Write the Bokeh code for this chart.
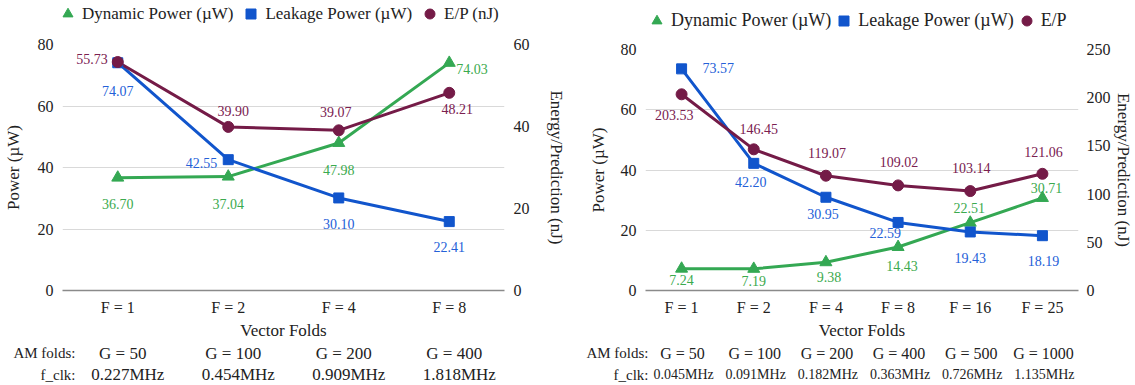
from bokeh.plotting import figure
from bokeh.models import (FactorRange, Range1d, LinearAxis, FixedTicker, Legend, LegendItem,
                          ColumnDataSource)
from bokeh.layouts import row, column
from bokeh.embed import file_html
from bokeh.resources import INLINE
from bokeh.core.properties import value

# ---------------- data ----------------
left_folds = ["F = 1", "F = 2", "F = 4", "F = 8"]
left_am = ["G = 50", "G = 100", "G = 200", "G = 400"]
left_fclk = ["0.227MHz", "0.454MHz", "0.909MHz", "1.818MHz"]
left_dynamic = [36.70, 37.04, 47.98, 74.03]
left_leakage = [74.07, 42.55, 30.10, 22.41]
left_ep = [55.73, 39.90, 39.07, 48.21]

right_folds = ["F = 1", "F = 2", "F = 4", "F = 8", "F = 16", "F = 25"]
right_am = ["G = 50", "G = 100", "G = 200", "G = 400", "G = 500", "G = 1000"]
right_fclk = ["0.045MHz", "0.091MHz", "0.182MHz", "0.363MHz", "0.726MHz", "1.135MHz"]
right_dynamic = [7.24, 7.19, 9.38, 14.43, 22.51, 30.71]
right_leakage = [73.57, 42.20, 30.95, 22.59, 19.43, 18.19]
right_ep = [203.53, 146.45, 119.07, 109.02, 103.14, 121.06]

row_heads = ["f_clk:", "AM folds:"]
power_ticks = [0, 20, 40, 60, 80]
left_ep_ticks = [0, 20, 40, 60]
right_ep_ticks = [0, 50, 100, 150, 200, 250]

# ---------------- style ----------------
FONT = "Liberation Serif"
GREEN = "#34A853"
BLUE = "#1155CC"
MAROON = "#741B47"
GREEN_T = "#3BAA4E"
BLUE_T = "#2460D8"
MAROON_T = "#7A2050"
TXT = "#222222"

# label placement (dx, dy in px; align)
left_lab = {
    "dyn": [(0, 26, "center"), (0, 27, "center"), (0, 27, "center"), (7, 6, "left")],
    "leak": [(0, 28, "center"), (-11, 3, "right"), (0, 26, "center"), (0, 25, "center")],
    "ep": [(-10, -3, "right"), (5, -16, "center"), (-3, -18, "center"), (8, 16, "center")],
}
right_lab = {
    "dyn": [(0, 11, "center"), (0, 12, "center"), (3, 15, "center"), (4, 19, "center"),
            (-1, -15, "center"), (4, -10, "center")],
    "leak": [(21, -1, "left"), (-3, 19, "center"), (-3, 17, "center"), (3, 11, "right"),
             (0, 26, "center"), (1, 25, "center")],
    "ep": [(12, 21, "right"), (5, -20, "center"), (1, -23, "center"), (1, -23, "center"),
           (1, -23, "center"), (1, -22, "center")],
}

LEG_H = 36
CHART_H = 306
TABLE_H = 385 - LEG_H - CHART_H
FRAME_BOTTOM = 291 - LEG_H   # frame bottom inside the chart figure


def add_labels(p, folds, vals, lab, color, range_name="default"):
    src = ColumnDataSource(dict(
        x=folds, y=vals, t=["%.2f" % v for v in vals],
        dx=[l[0] for l in lab], dy=[l[1] for l in lab], al=[l[2] for l in lab]))
    p.text(x="x", y="y", text="t", x_offset="dx", y_offset="dy", text_align="al",
           text_baseline="middle", text_font=value(FONT), text_font_size="14px",
           text_color=color, source=src, y_range_name=range_name)


def style_axis(ax, label_size="17px"):
    ax.axis_line_color = None
    ax.major_tick_line_color = None
    ax.minor_tick_line_color = None
    ax.major_tick_out = 0
    ax.major_tick_in = 0
    ax.minor_tick_out = 0
    ax.minor_tick_in = 0
    ax.major_label_text_font = FONT
    ax.major_label_text_font_size = "16px"
    ax.major_label_text_color = TXT
    ax.axis_label_text_font = FONT
    ax.axis_label_text_font_size = label_size
    ax.axis_label_text_font_style = "normal"
    ax.axis_label_text_color = TXT


def bare(f):
    f.outline_line_color = None
    f.background_fill_color = "white"
    f.border_fill_color = "white"
    if f.title is not None:
        f.title.visible = False


def make_chart(folds, am, fclk, dyn, leak, ep, ep_max, ep_ticks, ep_legend, lab,
               width, bl, br, bt, legend_loc, legend_font, rows_dx, rows_font, head_standoff,
               right_tick_standoff, right_label_standoff, left_label_standoff, spacing):
    xr = FactorRange(factors=folds)
    p = figure(width=width, height=CHART_H, x_range=xr,
               y_range=Range1d(0, 80), output_backend="svg", toolbar_location=None,
               min_border_left=bl, min_border_right=br, min_border_top=bt,
               min_border_bottom=CHART_H - FRAME_BOTTOM)
    bare(p)
    p.xgrid.grid_line_color = None
    p.ygrid.grid_line_color = "#d9d9d9"
    p.ygrid.grid_line_width = 1
    p.yaxis.ticker = FixedTicker(ticks=power_ticks)
    p.extra_y_ranges = {"ep": Range1d(0, ep_max)}

    for ax in p.yaxis:
        style_axis(ax)
        ax.major_label_standoff = 9
        ax.axis_label = "Power (µW)"
        ax.axis_label_standoff = left_label_standoff

    rax = LinearAxis(y_range_name="ep", ticker=FixedTicker(ticks=ep_ticks),
                     axis_label="Energy/Prediction (nJ)")
    style_axis(rax)
    rax.major_label_standoff = right_tick_standoff
    rax.axis_label_standoff = right_label_standoff
    if "axis_label_orientation" in rax.properties():
        rax.axis_label_orientation = "vertical"
    p.add_layout(rax, "right")

    for ax in p.xaxis:
        style_axis(ax)
        ax.axis_line_color = "#8a8a8a"
        ax.axis_line_width = 1.5
        ax.major_label_standoff = 8
        ax.axis_label = "Vector Folds"
        ax.axis_label_standoff = 2

    p.line(folds, dyn, line_width=3, color=GREEN)
    p.line(folds, leak, line_width=3, color=BLUE)
    p.line(folds, ep, line_width=3, color=MAROON, y_range_name="ep")
    p.scatter(folds, dyn, marker="triangle", size=12, color=GREEN)
    p.scatter(folds, leak, marker="square", size=10, color=BLUE)
    p.scatter(folds, ep, marker="circle", size=11, color=MAROON, y_range_name="ep")

    add_labels(p, folds, dyn, lab["dyn"], GREEN_T)
    add_labels(p, folds, leak, lab["leak"], BLUE_T)
    add_labels(p, folds, ep, lab["ep"], MAROON_T, "ep")

    # ---- legend strip above the chart (key glyphs sit outside its visible range) ----
    lg = figure(width=width, height=LEG_H, x_range=Range1d(0, 1), y_range=Range1d(0, 1),
                output_backend="svg", toolbar_location=None, x_axis_location=None,
                y_axis_location=None, min_border=0)
    bare(lg)
    lg.grid.grid_line_color = None
    k_dyn = lg.scatter(x=[-5], y=[-5], marker="triangle", color=GREEN)
    k_leak = lg.scatter(x=[-5], y=[-5], marker="square", color=BLUE)
    k_ep = lg.scatter(x=[-5], y=[-5], marker="circle", color=MAROON)
    legend = Legend(items=[LegendItem(label="Dynamic Power (µW)", renderers=[k_dyn]),
                           LegendItem(label="Leakage Power (µW)", renderers=[k_leak]),
                           LegendItem(label=ep_legend, renderers=[k_ep])],
                    orientation="horizontal", location=legend_loc, glyph_width=25,
                    glyph_height=25, label_standoff=2, spacing=spacing, padding=0, margin=0,
                    border_line_alpha=0, background_fill_alpha=0,
                    label_text_font=FONT, label_text_font_size=legend_font,
                    label_text_color=TXT)
    lg.add_layout(legend, "center")

    # ---- table below the chart (shares the category axis) ----
    t = figure(width=width, height=TABLE_H, x_range=xr, y_range=FactorRange(factors=row_heads),
               output_backend="svg", toolbar_location=None, x_axis_location=None,
               min_border_left=bl, min_border_right=br, min_border_top=0, min_border_bottom=0)
    bare(t)
    t.grid.grid_line_color = None
    for ax in t.yaxis:
        style_axis(ax)
        ax.major_label_text_font_size = "15px"
        ax.major_label_standoff = head_standoff
    am_src = ColumnDataSource(dict(x=folds, y=["AM folds:"] * len(folds), t=am))
    fc_src = ColumnDataSource(dict(x=folds, y=["f_clk:"] * len(folds), t=fclk))
    t.text(x="x", y="y", text="t", source=am_src, x_offset=rows_dx[0], text_align="center",
           text_baseline="middle", text_font=value(FONT), text_font_size=rows_font[0],
           text_color=TXT)
    t.text(x="x", y="y", text="t", source=fc_src, x_offset=rows_dx[1], text_align="center",
           text_baseline="middle", text_font=value(FONT), text_font_size=rows_font[1],
           text_color=TXT)
    return column(lg, p, t)


c1 = make_chart(left_folds, left_am, left_fclk, left_dynamic, left_leakage, left_ep,
                60, left_ep_ticks, "E/P (nJ)", left_lab,
                width=574, bl=62, br=70, bt=44 - LEG_H, legend_loc=(-7, 10), legend_font="17px",
                rows_dx=(5, 10), rows_font=("17px", "17px"), head_standoff=-13,
                right_tick_standoff=9, right_label_standoff=14, left_label_standoff=12,
                spacing=5)

c2 = make_chart(right_folds, right_am, right_fclk, right_dynamic, right_leakage, right_ep,
                250, right_ep_ticks, "E/P", right_lab,
                width=561, bl=71, br=57, bt=49 - LEG_H, legend_loc=(-1, 3), legend_font="18px",
                rows_dx=(1, 2), rows_font=("16px", "14px"), head_standoff=-3,
                right_tick_standoff=8, right_label_standoff=0, left_label_standoff=10,
                spacing=0)

layout = row(c1, c2)
open("out.html", "w").write(file_html(layout, INLINE))
